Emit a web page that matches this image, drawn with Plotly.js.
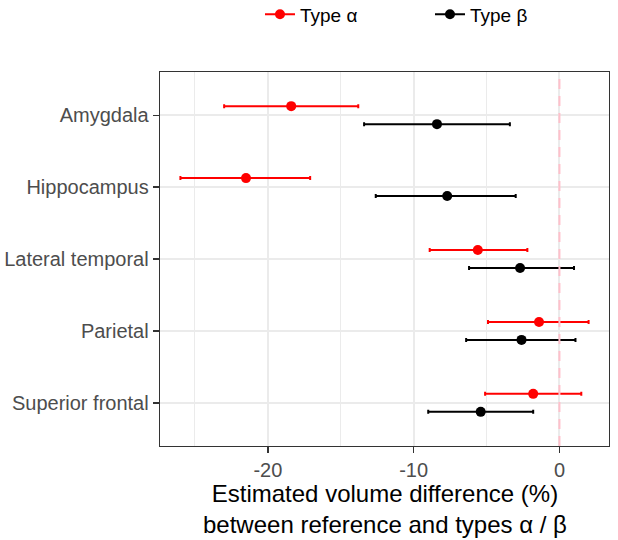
<!DOCTYPE html>
<html><head><meta charset="utf-8">
<script src="https://cdn.plot.ly/plotly-3.0.1.min.js"></script>
<style>html,body{margin:0;padding:0;background:#fff}</style>
</head><body>
<div id="chart" style="width:618px;height:540px"></div>
<script>
// ---- data ----
const regions   = ["Amygdala", "Hippocampus", "Lateral temporal", "Parietal", "Superior frontal"];
const alphaEst  = [-18.4, -21.5, -5.6, -1.4, -1.8];
const alphaLow  = [-23.0, -26.0, -8.9, -4.9, -5.1];
const alphaHigh = [-13.8, -17.1, -2.2,  2.0,  1.5];
const betaEst   = [-8.4, -7.7, -2.7, -2.6, -5.4];
const betaLow   = [-13.4, -12.6, -6.2, -6.4, -9.0];
const betaHigh  = [-3.4, -3.0, 1.0, 1.1, -1.8];
const xTickVals = [-20, -10, 0];
const seriesNames = ["Type α", "Type β"];
const xTitle = "Estimated volume difference (%)<br>between reference and types α / β";

// ---- build ----
const dodge = 0.125;
function buildTrace(name, est, low, high, offset, color) {
  const x = [], y = [], plus = [], minus = [];
  est.forEach((v, i) => {
    x.push(v, null); y.push(i + 1 + offset, null);
    plus.push(high[i] - v, null); minus.push(v - low[i], null);
  });
  return {
    type: 'scatter', mode: 'lines+markers', name: name,
    x: x, y: y, connectgaps: false,
    line: {color: color, width: 2},
    marker: {color: color, size: 10},
    error_x: {type: 'data', symmetric: false, array: plus, arrayminus: minus,
              color: color, thickness: 2, width: 2},
    hoverinfo: 'x+name'
  };
}
const traces = [
  buildTrace(seriesNames[0], alphaEst, alphaLow, alphaHigh, -dodge, '#FF0000'),
  buildTrace(seriesNames[1], betaEst, betaLow, betaHigh, dodge, '#000000')
];

const font = "'Liberation Sans', Arial, sans-serif";
const layout = {
  width: 618, height: 540,
  margin: {l: 160, r: 9, t: 72, b: 94, autoexpand: false},
  paper_bgcolor: '#FFFFFF', plot_bgcolor: '#FFFFFF',
  font: {family: font, color: '#000000'},
  showlegend: true,
  legend: {
    orientation: 'h', xref: 'paper', yref: 'paper',
    x: 0.2227, xanchor: 'left', y: 1.205, yanchor: 'top',
    font: {family: font, size: 19, color: '#000000'},
    itemwidth: 30, entrywidth: 125, bgcolor: 'rgba(0,0,0,0)'
  },
  xaxis: {
    range: [-27.4, 3.4], tickvals: xTickVals, ticktext: xTickVals.map(String),
    showgrid: true, gridcolor: '#EBEBEB', gridwidth: 2,
    minor: {dtick: 10, tick0: -25, showgrid: true, gridcolor: '#EBEBEB', gridwidth: 1, ticks: ''},
    zeroline: false,
    showline: true, mirror: true, linecolor: '#333333', linewidth: 1.3,
    ticks: 'outside', ticklen: 6, tickwidth: 1.3, tickcolor: '#333333',
    tickfont: {family: font, size: 20, color: '#4D4D4D'}
  },
  yaxis: {
    range: [5.6, 0.4], tickvals: regions.map((r, i) => i + 1), ticktext: regions,
    showgrid: true, gridcolor: '#EBEBEB', gridwidth: 2, zeroline: false,
    showline: true, mirror: true, linecolor: '#333333', linewidth: 1.3,
    ticks: 'outside', ticklen: 6, tickwidth: 1.3, tickcolor: '#333333',
    tickfont: {family: font, size: 20, color: '#4D4D4D'}
  },
  annotations: [
    {text: xTitle, xref: 'paper', yref: 'paper', x: 0.5, y: -0.1684,
     xanchor: 'center', yanchor: 'middle', showarrow: false, align: 'center', borderpad: 0,
     font: {family: font, size: 24, color: '#000000'}}
  ],
  shapes: [{
    type: 'line', xref: 'x', yref: 'paper', x0: 0, x1: 0, y0: 0, y1: 1,
    line: {color: '#FFC0CB', width: 2, dash: '10px,7px'}, layer: 'above'
  }]
};
Plotly.newPlot('chart', traces, layout, {displayModeBar: false, staticPlot: true});
</script>
</body></html>
